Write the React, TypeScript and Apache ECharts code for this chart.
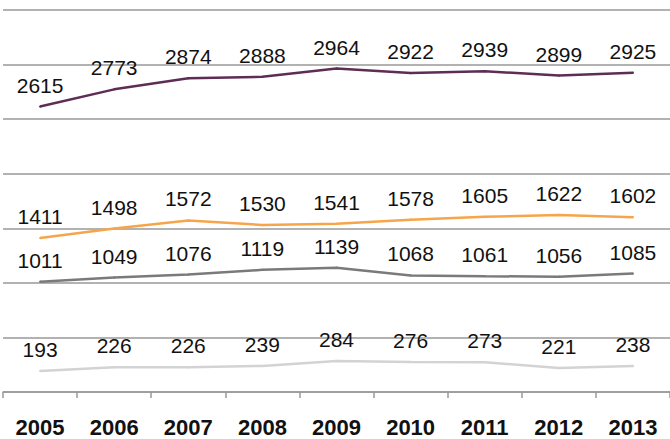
import React, { useEffect, useRef } from "react";
import * as echarts from "echarts";

const years = ["2005", "2006", "2007", "2008", "2009", "2010", "2011", "2012", "2013"];
const seriesA = [2615, 2773, 2874, 2888, 2964, 2922, 2939, 2899, 2925];
const seriesB = [1411, 1498, 1572, 1530, 1541, 1578, 1605, 1622, 1602];
const seriesC = [1011, 1049, 1076, 1119, 1139, 1068, 1061, 1056, 1085];
const seriesD = [193, 226, 226, 239, 284, 276, 273, 221, 238];

const FONT = "'Liberation Sans', Arial, Helvetica, sans-serif";

export default function App() {
  const ref = useRef<HTMLDivElement>(null);
  useEffect(() => {
    if (!ref.current) return;
    const chart = echarts.init(ref.current, null, { renderer: "svg" });
    const mk = (name: string, data: number[], color: string) => ({
      name,
      type: "line",
      data,
      symbol: "circle",
      symbolSize: 2,
      showSymbol: true,
      showAllSymbol: true,
      lineStyle: { color, width: 2.5 },
      itemStyle: { color },
      label: {
        show: true,
        position: "top",
        distance: 10,
        color: "#111",
        opacity: 1,
        fontSize: 21,
        fontFamily: FONT,
      },
    });
    chart.setOption({
      animation: false,
      grid: { left: 3, right: -5, top: 10, bottom: 47, containLabel: false },
      xAxis: {
        type: "category",
        data: years,
        boundaryGap: true,
        axisLine: { lineStyle: { color: "#999", width: 1.5 } },
        axisTick: { show: true, length: 6, lineStyle: { color: "#999", width: 1.5 } },
        axisLabel: {
          color: "#111",
          fontSize: 22,
          fontWeight: "bold",
          fontFamily: FONT,
          margin: 24,
        },
      },
      yAxis: {
        type: "value",
        min: 0,
        max: 3500,
        interval: 500,
        axisLabel: { show: false },
        axisLine: { show: false },
        axisTick: { show: false },
        splitLine: { lineStyle: { color: "#999", width: 1.5 } },
      },
      series: [
        mk("A", seriesA, "#5e2d55"),
        mk("B", seriesB, "#f7a54a"),
        mk("C", seriesC, "#7a7a7a"),
        mk("D", seriesD, "#d3d3d3"),
      ],
    });
    return () => chart.dispose();
  }, []);
  return (
    <div
      ref={ref}
      style={{ position: "absolute", left: 0, top: 0, width: 670, height: 439, background: "#fff" }}
    />
  );
}
